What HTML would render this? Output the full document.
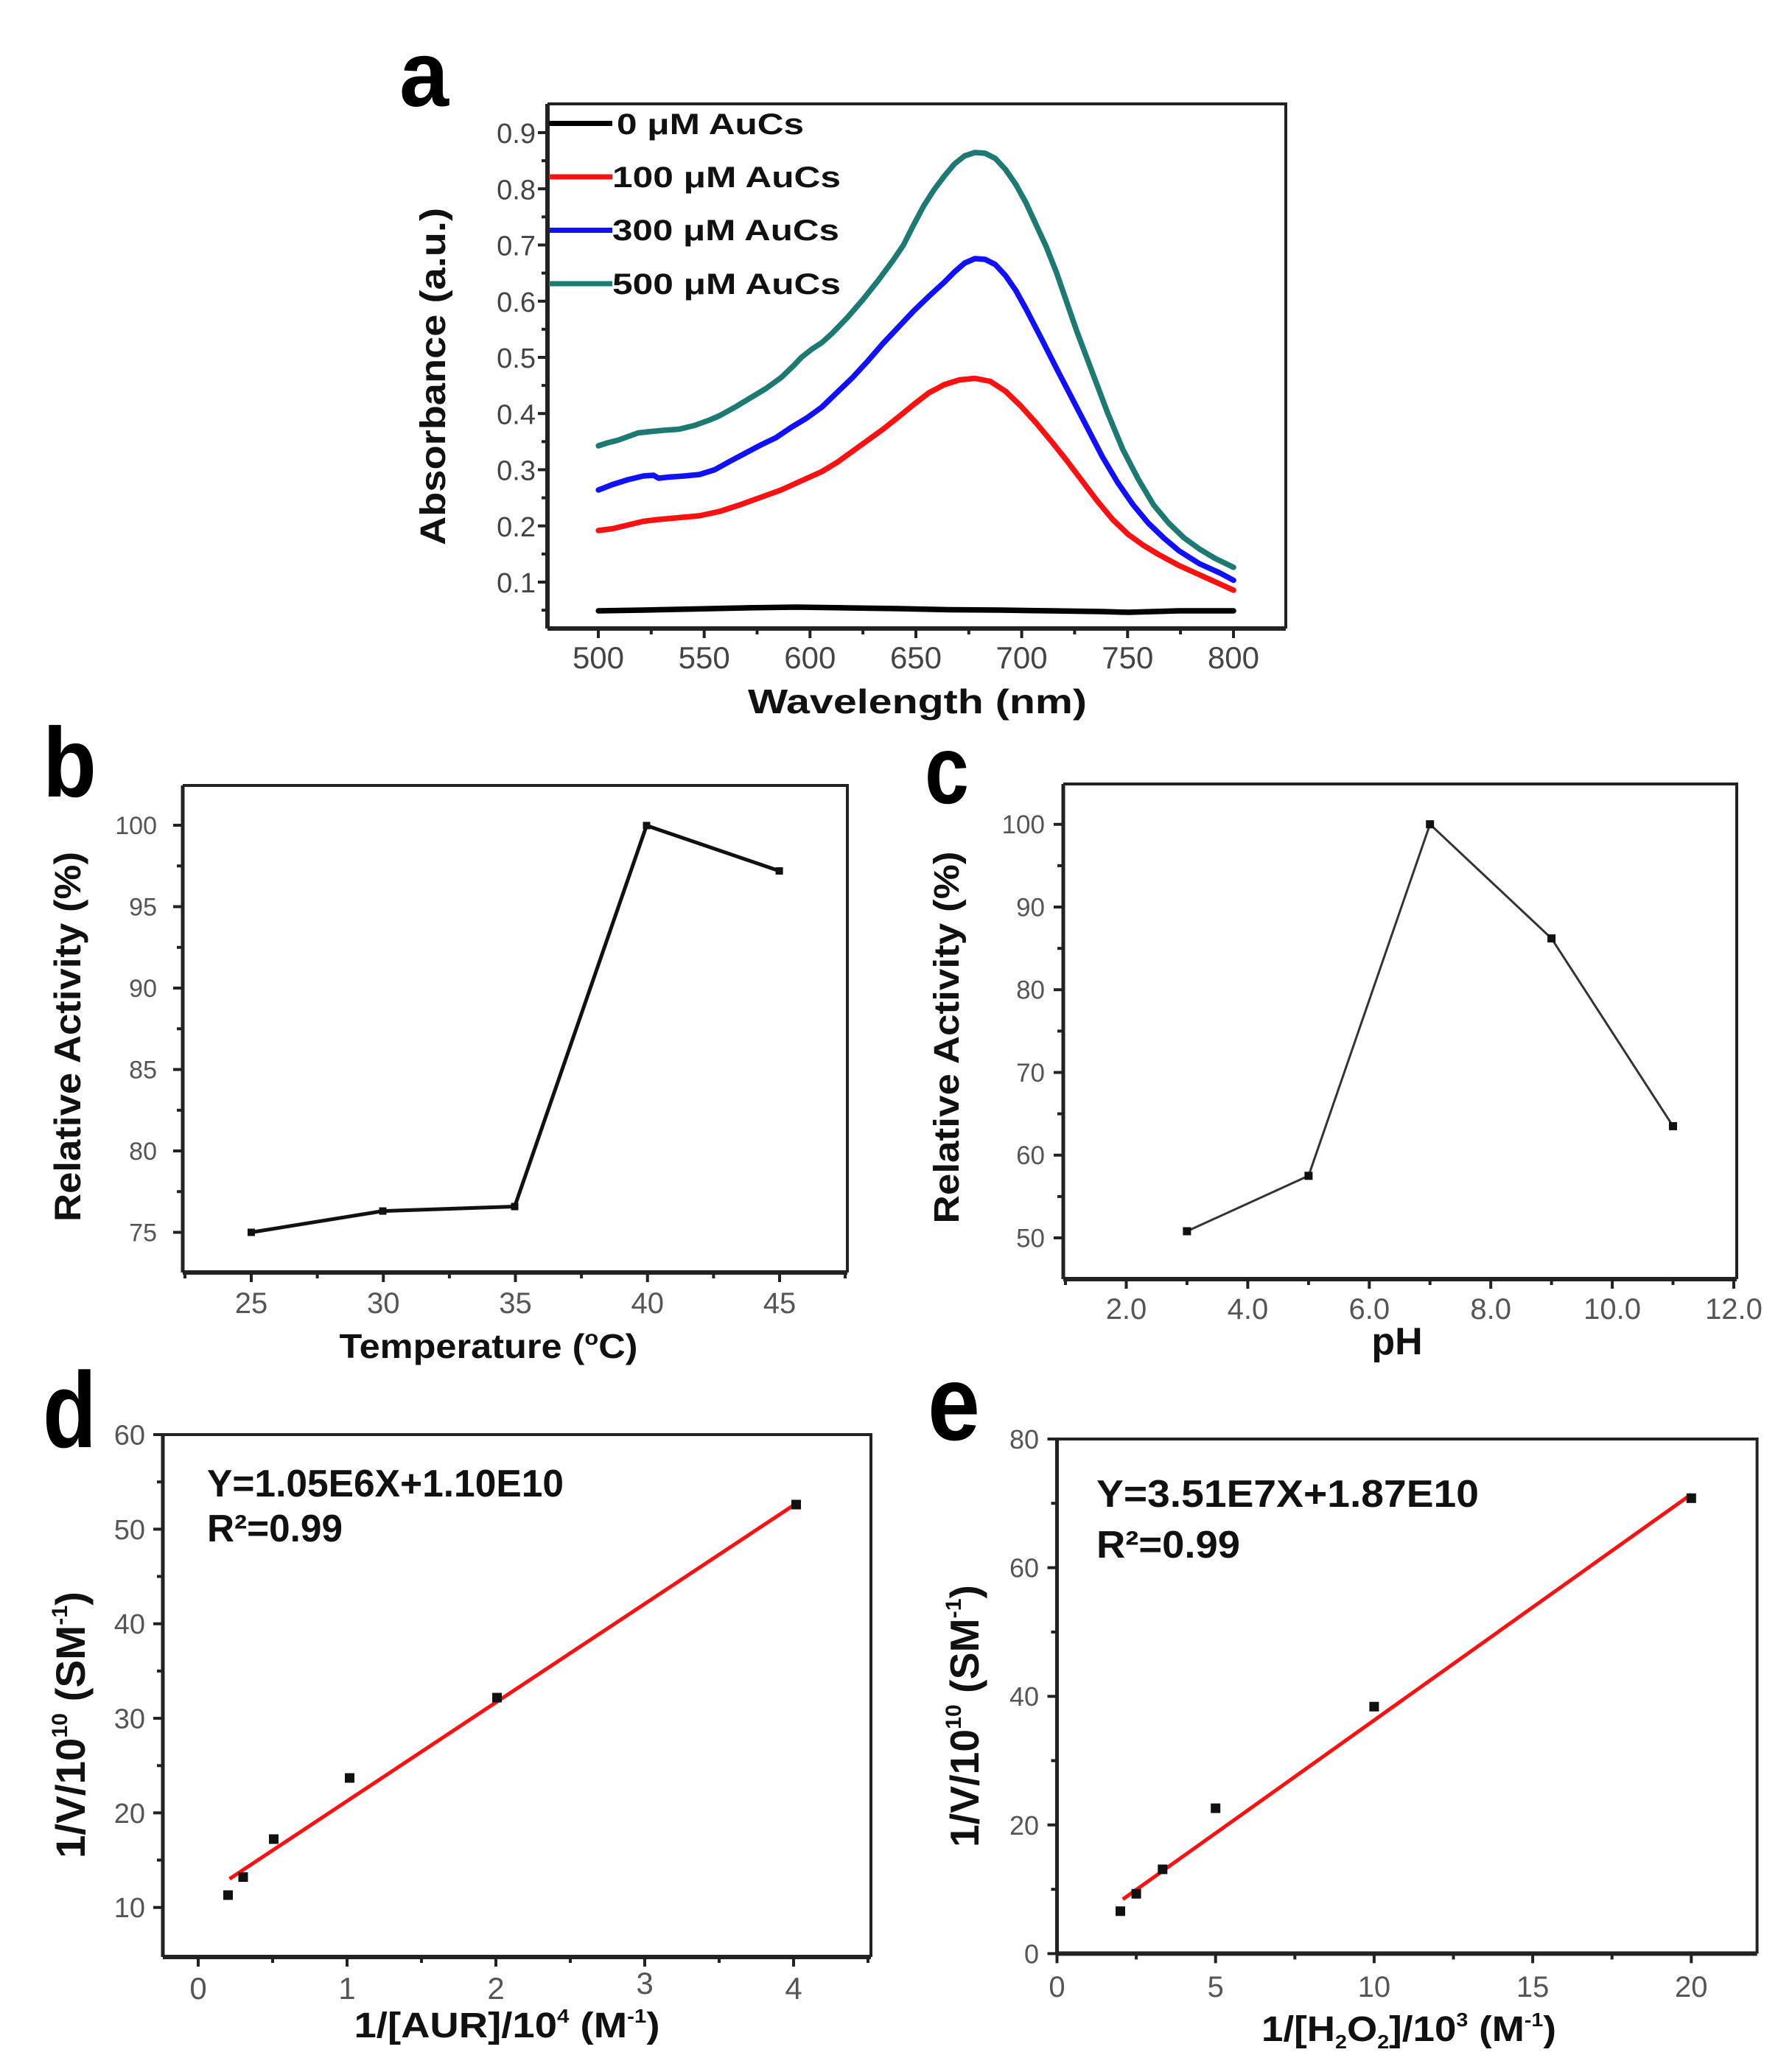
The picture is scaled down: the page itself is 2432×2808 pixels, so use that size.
<!DOCTYPE html>
<html><head><meta charset="utf-8"><style>
html,body{margin:0;padding:0;background:#fff;}
svg{display:block;}
text{font-family:"Liberation Sans",Arial,sans-serif;}
.tl{fill:#555;}
.ti{font-weight:bold;fill:#111;}
.lab{font-weight:bold;fill:#000;}
</style></head><body>
<svg xmlns="http://www.w3.org/2000/svg" width="2432" height="2808" viewBox="0 0 2432 2808">
<rect width="2432" height="2808" fill="#fff"/>

<!-- ================= Panel a ================= -->
<text class="lab" x="542" y="144" font-size="126" textLength="67" lengthAdjust="spacingAndGlyphs">a</text>
<g stroke="#222" fill="none">
  <path d="M743 853H1745" stroke-width="6"/>
  <path d="M743 141V853" stroke-width="6"/>
  <path d="M743 141H1745V853" stroke-width="4"/>
  <path stroke-width="4" d="M812 853v13M955.7 853v13M1099.3 853v13M1243 853v13M1386.6 853v13M1530.3 853v13M1674 853v13
  M883.8 853v8M1027.5 853v8M1171.1 853v8M1314.8 853v8M1458.4 853v8M1602.1 853v8
  M743 790h-13M743 713.75h-13M743 637.5h-13M743 561.25h-13M743 485h-13M743 408.75h-13M743 332.5h-13M743 256.25h-13M743 180h-13
  M743 828.1h-8M743 751.9h-8M743 675.6h-8M743 599.4h-8M743 523.1h-8M743 446.9h-8M743 370.6h-8M743 294.4h-8M743 218.1h-8"/>
</g>
<g class="tl" font-size="42" text-anchor="middle" style="fill:#444">
  <text x="812" y="907">500</text><text x="955.7" y="907">550</text><text x="1099.3" y="907">600</text>
  <text x="1243" y="907">650</text><text x="1386.6" y="907">700</text><text x="1530.3" y="907">750</text><text x="1674" y="907">800</text>
</g>
<g class="tl" font-size="38" text-anchor="end" style="fill:#444">
  <text x="727" y="804">0.1</text><text x="727" y="727.75">0.2</text><text x="727" y="651.5">0.3</text>
  <text x="727" y="575.25">0.4</text><text x="727" y="499">0.5</text><text x="727" y="422.75">0.6</text>
  <text x="727" y="346.5">0.7</text><text x="727" y="270.25">0.8</text><text x="727" y="194">0.9</text>
</g>
<text class="ti" transform="translate(604,511) rotate(-90)" x="0" y="0" font-size="48" text-anchor="middle" textLength="458" lengthAdjust="spacingAndGlyphs">Absorbance (a.u.)</text>
<text class="ti" x="1245" y="968" font-size="46" text-anchor="middle" textLength="460" lengthAdjust="spacingAndGlyphs">Wavelength  (nm)</text>

<g transform="translate(700,120) scale(0.6923,0.5)" fill="none" stroke-linejoin="round" stroke-linecap="round">
<polyline vector-effect="non-scaling-stroke" stroke="#000" stroke-width="7.5" points="162,1418 250,1416 350,1413 450,1410 550,1408 650,1410 750,1412 850,1415 950,1416 1050,1418 1150,1420 1200,1422 1250,1420 1300,1418 1407,1418"/>
<polyline vector-effect="non-scaling-stroke" stroke="#ff1010" stroke-width="7.5" points="162,1200 190,1195 220,1185 250,1175 280,1170 320,1165 360,1160 400,1148 440,1130 480,1110 520,1090 560,1065 600,1040 630,1015 660,985 690,955 720,925 750,892 780,858 810,826 840,804 870,791 900,787 930,795 960,822 990,862 1020,908 1050,958 1080,1010 1110,1065 1140,1120 1170,1170 1200,1210 1230,1240 1260,1265 1300,1295 1340,1320 1380,1345 1407,1362"/>
<polyline vector-effect="non-scaling-stroke" stroke="#1010ff" stroke-width="7.5" points="162,1090 190,1075 220,1062 250,1052 270,1050 280,1058 300,1055 330,1052 360,1048 390,1035 420,1012 450,990 480,968 510,948 540,920 570,895 600,865 630,825 660,785 690,740 720,692 750,648 780,604 810,564 840,526 860,498 880,474 900,462 920,464 940,478 960,508 980,548 1000,598 1030,678 1060,760 1090,840 1120,920 1150,1000 1180,1070 1210,1130 1240,1180 1270,1220 1300,1255 1340,1290 1380,1315 1407,1335"/>
<polyline vector-effect="non-scaling-stroke" stroke="#1d7a72" stroke-width="7.5" points="162,970 180,962 200,955 220,945 240,935 260,932 290,928 320,925 350,915 380,900 400,888 430,865 460,840 490,815 520,785 545,752 560,730 580,708 600,690 620,665 650,622 680,574 710,522 740,466 760,425 780,370 800,318 820,275 840,238 860,205 880,183 900,174 920,176 940,190 960,220 980,260 1000,310 1020,370 1040,430 1060,500 1080,580 1100,660 1130,770 1160,880 1190,980 1220,1060 1250,1130 1280,1180 1310,1220 1340,1250 1370,1275 1407,1300"/>
</g>
<!-- legend -->
<g stroke-width="7" fill="none">
  <path d="M745 167.5H831" stroke="#000"/>
  <path d="M745 240H831" stroke="#ff1010"/>
  <path d="M745 312.5H831" stroke="#1010ff"/>
  <path d="M745 385H831" stroke="#1d7a72"/>
</g>
<g class="ti" font-size="40" style="fill:#111">
  <text x="837" y="182" textLength="254" lengthAdjust="spacingAndGlyphs">0 μM  AuCs</text>
  <text x="831" y="254" textLength="310" lengthAdjust="spacingAndGlyphs">100 μM  AuCs</text>
  <text x="831" y="326" textLength="308" lengthAdjust="spacingAndGlyphs">300 μM  AuCs</text>
  <text x="831" y="399" textLength="310" lengthAdjust="spacingAndGlyphs">500 μM  AuCs</text>
</g>

<!-- ================= Panel b ================= -->
<text class="lab" x="58" y="1081" font-size="134" textLength="73" lengthAdjust="spacingAndGlyphs">b</text>
<g stroke="#222" fill="none">
  <path d="M248 1727H1150" stroke-width="6"/>
  <path d="M248 1066V1727" stroke-width="5"/>
  <path d="M248 1066H1150V1727" stroke-width="4"/>
  <path stroke-width="4" d="M341 1727v13M520.25 1727v13M699.5 1727v13M878.75 1727v13M1058 1727v13
  M251 1727v8M430.6 1727v8M609.9 1727v8M789.1 1727v8M968.4 1727v8M1147 1727v8
  M248 1672.5h-13M248 1562h-13M248 1451.5h-13M248 1341h-13M248 1230.5h-13M248 1120h-13
  M248 1617.25h-8M248 1506.75h-8M248 1396.25h-8M248 1285.75h-8M248 1175.25h-8"/>
</g>
<g class="tl" font-size="40" text-anchor="middle">
  <text x="341" y="1782">25</text><text x="520.25" y="1782">30</text><text x="699.5" y="1782">35</text>
  <text x="878.75" y="1782">40</text><text x="1058" y="1782">45</text>
</g>
<g class="tl" font-size="34" text-anchor="end">
  <text x="213" y="1684.5">75</text><text x="213" y="1574">80</text><text x="213" y="1463.5">85</text>
  <text x="213" y="1353">90</text><text x="213" y="1242.5">95</text><text x="213" y="1132">100</text>
</g>
<text class="ti" transform="translate(109,1407) rotate(-90)" font-size="50" text-anchor="middle" textLength="502" lengthAdjust="spacingAndGlyphs">Relative Activity (%)</text>
<text class="ti" x="663" y="1843" font-size="46" text-anchor="middle" textLength="405" lengthAdjust="spacingAndGlyphs">Temperature (<tspan font-size="28" dy="-18">o</tspan><tspan dy="18">C)</tspan></text>
<polyline points="341,1672.5 519.5,1643.6 698.5,1637.5 877.5,1120.4 1057.6,1182" fill="none" stroke="#111" stroke-width="5" stroke-linejoin="round"/>
<g fill="#111">
  <rect x="336" y="1667.5" width="10" height="10"/><rect x="514.5" y="1638.6" width="10" height="10"/>
  <rect x="693.5" y="1632.5" width="10" height="10"/><rect x="872.5" y="1115.4" width="10" height="10"/>
  <rect x="1052.6" y="1177" width="10" height="10"/>
</g>

<!-- ================= Panel c ================= -->
<text class="lab" x="1255" y="1090" font-size="132" textLength="60" lengthAdjust="spacingAndGlyphs">c</text>
<g stroke="#222" fill="none">
  <path d="M1443 1736H2357" stroke-width="6"/>
  <path d="M1443 1064V1736" stroke-width="5"/>
  <path d="M1443 1064H2357V1736" stroke-width="4"/>
  <path stroke-width="4" d="M1528.5 1736v13M1693.4 1736v13M1858.3 1736v13M2023.2 1736v13M2188.1 1736v13M2353 1736v13
  M1446 1736v8M1610.9 1736v8M1775.9 1736v8M1940.7 1736v8M2105.6 1736v8M2270.5 1736v8
  M1443 1680h-13M1443 1567.7h-13M1443 1455.5h-13M1443 1343.2h-13M1443 1231h-13M1443 1118.7h-13
  M1443 1623.9h-8M1443 1511.6h-8M1443 1399.4h-8M1443 1287.1h-8M1443 1174.9h-8"/>
</g>
<g class="tl" font-size="40" text-anchor="middle">
  <text x="1528.5" y="1790">2.0</text><text x="1693.4" y="1790">4.0</text><text x="1858.3" y="1790">6.0</text>
  <text x="2023.2" y="1790">8.0</text><text x="2188.1" y="1790">10.0</text><text x="2353" y="1790">12.0</text>
</g>
<g class="tl" font-size="35" text-anchor="end">
  <text x="1418" y="1692.5">50</text><text x="1418" y="1580.2">60</text><text x="1418" y="1468">70</text>
  <text x="1418" y="1355.7">80</text><text x="1418" y="1243.5">90</text><text x="1418" y="1131.2">100</text>
</g>
<text class="ti" transform="translate(1301,1408) rotate(-90)" font-size="48" text-anchor="middle" textLength="505" lengthAdjust="spacingAndGlyphs">Relative Activity (%)</text>
<text class="ti" x="1896" y="1838" font-size="52" text-anchor="middle">pH</text>
<polyline points="1610.9,1671 1775.9,1595.8 1940.7,1118.7 2105.6,1273.6 2270.5,1528.4" fill="none" stroke="#333" stroke-width="3" stroke-linejoin="round"/>
<g fill="#111">
  <rect x="1605.4" y="1665.5" width="11" height="11"/><rect x="1770.4" y="1590.3" width="11" height="11"/>
  <rect x="1935.2" y="1113.2" width="11" height="11"/><rect x="2100.1" y="1268.1" width="11" height="11"/>
  <rect x="2265" y="1522.9" width="11" height="11"/>
</g>

<!-- ================= Panel d ================= -->
<text class="lab" x="58" y="1964" font-size="146" textLength="73" lengthAdjust="spacingAndGlyphs">d</text>
<g stroke="#222" fill="none">
  <path d="M221 2656H1182" stroke-width="6"/>
  <path d="M221 1947V2656" stroke-width="5"/>
  <path d="M221 1947H1182V2656" stroke-width="4"/>
  <path stroke-width="4" d="M269 2656v13M471 2656v13M673 2656v13M875 2656v13M1077 2656v13
  M370 2656v8M572 2656v8M774 2656v8M976 2656v8M1178 2656v8
  M221 2588.7h-13M221 2460.4h-13M221 2332h-13M221 2203.7h-13M221 2075.4h-13M221 1947h-13
  M221 2524.5h-8M221 2396.2h-8M221 2267.9h-8M221 2139.5h-8M221 2011.2h-8"/>
</g>
<g class="tl" font-size="42" text-anchor="middle">
  <text x="269" y="2713">0</text><text x="471" y="2713">1</text><text x="673" y="2713">2</text>
  <text x="875" y="2706">3</text><text x="1077" y="2713">4</text>
</g>
<g class="tl" font-size="38" text-anchor="end">
  <text x="197" y="2602.2">10</text><text x="197" y="2473.9">20</text><text x="197" y="2345.5">30</text>
  <text x="197" y="2217.2">40</text><text x="197" y="2088.9">50</text><text x="197" y="1960.5">60</text>
</g>
<text class="ti" transform="translate(115,2341) rotate(-90)" font-size="56" text-anchor="middle" textLength="362" lengthAdjust="spacingAndGlyphs">1/V/10<tspan font-size="30" dy="-24">10</tspan><tspan dy="24"> (SM</tspan><tspan font-size="30" dy="-24">-1</tspan><tspan dy="24">)</tspan></text>
<text class="ti" x="688" y="2765" font-size="48" text-anchor="middle" textLength="415" lengthAdjust="spacingAndGlyphs">1/[AUR]/10<tspan font-size="26" dy="-20">4</tspan><tspan dy="20"> (M</tspan><tspan font-size="26" dy="-20">-1</tspan><tspan dy="20">)</tspan></text>
<text class="ti" x="281" y="2031" font-size="52" textLength="484" lengthAdjust="spacingAndGlyphs">Y=1.05E6X+1.10E10</text>
<text class="ti" x="281" y="2092" font-size="52" textLength="184" lengthAdjust="spacingAndGlyphs">R²=0.99</text>
<line x1="311.5" y1="2550" x2="1080.7" y2="2040.4" stroke="#ff1010" stroke-width="5"/>
<g fill="#111">
  <rect x="303" y="2565.5" width="13" height="13"/><rect x="323.5" y="2541" width="13" height="13"/>
  <rect x="365" y="2489.5" width="13" height="13"/><rect x="468" y="2406.5" width="13" height="13"/>
  <rect x="668" y="2297.5" width="13" height="13"/><rect x="1074" y="2035.5" width="13" height="13"/>
</g>

<!-- ================= Panel e ================= -->
<text class="lab" x="1259" y="1954" font-size="145" textLength="71" lengthAdjust="spacingAndGlyphs">e</text>
<g stroke="#222" fill="none">
  <path d="M1434.5 2651.4H2384.6" stroke-width="6"/>
  <path d="M1434.5 1953V2651.4" stroke-width="5"/>
  <path d="M1434.5 1953H2384.6V2651.4" stroke-width="4"/>
  <path stroke-width="4" d="M1434.5 2651.4v13M1649.7 2651.4v13M1864.9 2651.4v13M2080.1 2651.4v13M2295.3 2651.4v13
  M1542.1 2651.4v8M1757.3 2651.4v8M1972.5 2651.4v8M2187.7 2651.4v8
  M1434.5 2651.4h-13M1434.5 2476.8h-13M1434.5 2302.2h-13M1434.5 2127.6h-13M1434.5 1953h-13
  M1434.5 2564.1h-8M1434.5 2389.5h-8M1434.5 2214.9h-8M1434.5 2040.3h-8"/>
</g>
<g class="tl" font-size="40" text-anchor="middle">
  <text x="1434.5" y="2710">0</text><text x="1649.7" y="2710">5</text><text x="1864.9" y="2710">10</text>
  <text x="2080.1" y="2710">15</text><text x="2295.3" y="2710">20</text>
</g>
<g class="tl" font-size="36" text-anchor="end">
  <text x="1410" y="2664.4">0</text><text x="1410" y="2489.8">20</text><text x="1410" y="2315.2">40</text>
  <text x="1410" y="2140.6">60</text><text x="1410" y="1966">80</text>
</g>
<text class="ti" transform="translate(1328,2329) rotate(-90)" font-size="55" text-anchor="middle" textLength="356" lengthAdjust="spacingAndGlyphs">1/V/10<tspan font-size="30" dy="-24">10</tspan><tspan dy="24"> (SM</tspan><tspan font-size="30" dy="-24">-1</tspan><tspan dy="24">)</tspan></text>
<text class="ti" x="1912" y="2770" font-size="48" text-anchor="middle" textLength="400" lengthAdjust="spacingAndGlyphs">1/[H<tspan font-size="26" dy="10">2</tspan><tspan dy="-10">O</tspan><tspan font-size="26" dy="10">2</tspan><tspan dy="-10">]/10</tspan><tspan font-size="26" dy="-20">3</tspan><tspan dy="20"> (M</tspan><tspan font-size="26" dy="-20">-1</tspan><tspan dy="20">)</tspan></text>
<text class="ti" x="1488" y="2045" font-size="52" textLength="519" lengthAdjust="spacingAndGlyphs">Y=3.51E7X+1.87E10</text>
<text class="ti" x="1488" y="2114" font-size="52" textLength="195" lengthAdjust="spacingAndGlyphs">R²=0.99</text>
<line x1="1523.8" y1="2577.7" x2="2295.3" y2="2028" stroke="#ff1010" stroke-width="5"/>
<g fill="#111">
  <rect x="1514" y="2587.3" width="13" height="13"/><rect x="1535.6" y="2563.7" width="13" height="13"/>
  <rect x="1571.3" y="2530.5" width="13" height="13"/><rect x="1643.2" y="2447.6" width="13" height="13"/>
  <rect x="1858.4" y="2309.7" width="13" height="13"/><rect x="2288.8" y="2026.8" width="13" height="13"/>
</g>
</svg>
</body></html>
